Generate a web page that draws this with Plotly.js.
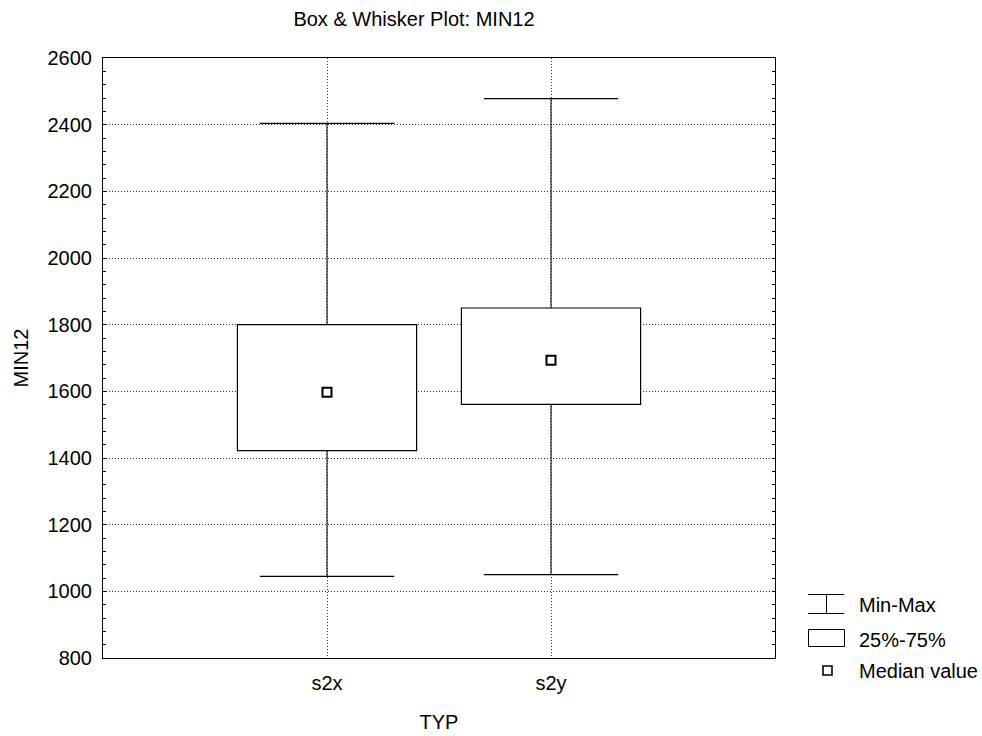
<!DOCTYPE html>
<html>
<head>
<meta charset="utf-8">
<script src="https://cdn.plot.ly/plotly-3.0.1.min.js"></script>
<style>html,body{margin:0;padding:0;background:#fff;}</style>
</head>
<body>
<div id="chart" style="width:982px;height:736px;"></div>
<script>
// ---- data ----
const categories = ['s2x', 's2y'];
const minValues = [1045, 1050];
const maxValues = [2404, 2478];
const q1Values = [1422, 1561];
const q3Values = [1800, 1850];
const medianValues = [1597, 1693];
const yTickValues = [800, 1000, 1200, 1400, 1600, 1800, 2000, 2200, 2400, 2600];
const legendLabels = ['Min-Max', '25%-75%', 'Median value'];

// ---- style ----
const FONT = 'Liberation Sans, Arial, sans-serif';
const FS = 20;
const boxWidth = 0.8;
const capHalf = 0.3;
const W = 982, H = 736;
const M = {l: 103, r: 207, t: 58, b: 78};

const xIdx = categories.map((c, i) => i);

// whisker vertical segments
const wx = [], wy = [];
xIdx.forEach(i => {
  wx.push(i, i, null, i, i, null);
  wy.push(q3Values[i], maxValues[i], null, minValues[i], q1Values[i], null);
});
// caps
const cx = [], cy = [];
xIdx.forEach(i => {
  cx.push(i - capHalf, i + capHalf, null, i - capHalf, i + capHalf, null);
  cy.push(maxValues[i], maxValues[i], null, minValues[i], minValues[i], null);
});

const traces = [
  {
    type: 'bar', x: xIdx, base: q1Values,
    y: q3Values.map((v, i) => v - q1Values[i]),
    width: boxWidth,
    marker: {color: '#ffffff', line: {color: '#000', width: 1.2}},
    showlegend: false, hoverinfo: 'skip'
  },
  {
    type: 'scatter', mode: 'lines', x: wx, y: wy,
    line: {color: '#222', width: 1.2}, showlegend: false, hoverinfo: 'skip'
  },
  {
    type: 'scatter', mode: 'lines', x: cx, y: cy,
    line: {color: '#000', width: 1.2}, showlegend: false, hoverinfo: 'skip'
  },
  {
    type: 'scatter', mode: 'markers', x: xIdx, y: medianValues,
    marker: {symbol: 'square-open', size: 9, color: '#000', line: {width: 2, color: '#000'}},
    showlegend: false, hoverinfo: 'skip'
  }
];

// custom legend (paper coords from pixels)
const pw = W - M.l - M.r, ph = H - M.t - M.b;
const px = p => (p - M.l) / pw;
const py = q => (H - M.b - q) / ph;
const shapes = [
  {type: 'line', xref: 'paper', yref: 'paper', x0: px(808), x1: px(844), y0: py(594.5), y1: py(594.5), line: {color: '#000', width: 1}},
  {type: 'line', xref: 'paper', yref: 'paper', x0: px(808), x1: px(844), y0: py(613.5), y1: py(613.5), line: {color: '#000', width: 1}},
  {type: 'line', xref: 'paper', yref: 'paper', x0: px(826.5), x1: px(826.5), y0: py(594.5), y1: py(613.5), line: {color: '#000', width: 1}},
  {type: 'rect', xref: 'paper', yref: 'paper', x0: px(808.5), x1: px(844.5), y0: py(629.5), y1: py(646.5), line: {color: '#000', width: 1}, fillcolor: '#fff'},
  {type: 'rect', xref: 'paper', yref: 'paper', x0: px(823), x1: px(832), y0: py(666), y1: py(675), line: {color: '#000', width: 1.6}, fillcolor: '#fff'}
];
const legendY = [605, 640, 670.5];
const annotations = legendLabels.map((t, i) => ({
  text: t, xref: 'paper', yref: 'paper', x: px(857), y: py(legendY[i]),
  xanchor: 'left', yanchor: 'middle', showarrow: false,
  font: {family: FONT, size: FS, color: '#000'}
}));

const layout = {
  width: W, height: H,
  margin: M,
  paper_bgcolor: '#fff', plot_bgcolor: '#fff',
  font: {family: FONT, size: FS, color: '#000'},
  title: {
    text: 'Box & Whisker Plot: MIN12',
    xref: 'container', yref: 'container',
    x: 414 / W, xanchor: 'center', y: 1 - 19 / H, yanchor: 'middle',
    font: {family: FONT, size: FS, color: '#000'}
  },
  xaxis: {
    range: [-1, 2], tickmode: 'array', tickvals: xIdx, ticktext: categories,
    showgrid: true, gridcolor: '#333', griddash: '1px,2px', gridwidth: 1,
    zeroline: false, showline: true, linecolor: '#000', linewidth: 1, mirror: true,
    ticks: '', ticklabelstandoff: 7,
    title: {text: 'TYP', standoff: 21, font: {family: FONT, size: FS}},
    fixedrange: true
  },
  yaxis: {
    range: [800, 2600], tickmode: 'array', tickvals: yTickValues,
    showgrid: true, gridcolor: '#333', griddash: '1px,2px', gridwidth: 1,
    zeroline: false, showline: true, linecolor: '#000', linewidth: 1, mirror: 'ticks',
    ticks: 'inside', ticklen: 3, tickcolor: '#000',
    minor: {dtick: 40, ticks: 'inside', ticklen: 3, tickcolor: '#000', showgrid: false},
    ticklabelstandoff: 6,
    title: {text: 'MIN12', standoff: 13, font: {family: FONT, size: FS}},
    fixedrange: true
  },
  bargap: 0,
  shapes: shapes,
  annotations: annotations,
  showlegend: false
};

Plotly.newPlot('chart', traces, layout, {staticPlot: true, displayModeBar: false});
</script>
</body>
</html>
